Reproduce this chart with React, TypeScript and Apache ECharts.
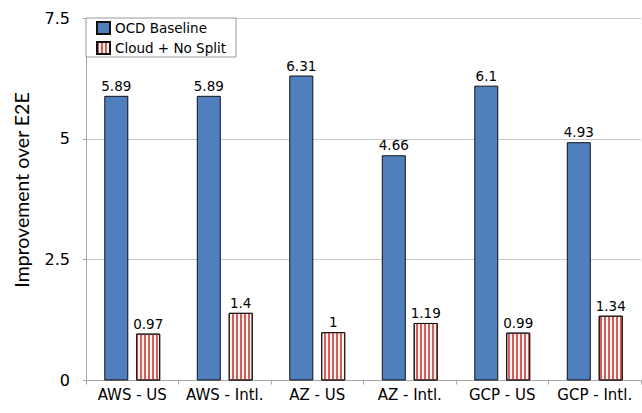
import React, { useEffect, useRef } from "react";
import * as echarts from "echarts";

const categories = ["AWS - US", "AWS - Intl.", "AZ - US", "AZ - Intl.", "GCP - US", "GCP - Intl."];
const ocdBaseline = [5.89, 5.89, 6.31, 4.66, 6.1, 4.93];
const cloudNoSplit = [0.97, 1.4, 1, 1.19, 0.99, 1.34];
const yTicks = { min: 0, max: 7.5, interval: 2.5 };
const yAxisTitle = "Improvement over E2E";

export default function App() {
  const ref = useRef<HTMLDivElement>(null);
  useEffect(() => {
    const chart = echarts.init(ref.current!, null, { renderer: "svg" });
    const font = "DejaVu Sans";
    chart.setOption({
      animation: false,
      textStyle: { fontFamily: font },
      grid: { left: 86, right: 1, top: 18, bottom: 32.5, containLabel: false },
      graphic: [
        {
          type: "text",
          x: 21,
          y: 190,
          rotation: Math.PI / 2,
          style: {
            text: yAxisTitle,
            fontFamily: "Lato",
            fontSize: 19.5,
            fill: "#000",
            align: "center",
            verticalAlign: "middle",
          },
        },
      ],
      legend: {
        left: 86,
        top: 18,
        orient: "vertical",
        borderColor: "#9a9a9a",
        borderWidth: 1,
        backgroundColor: "#fff",
        padding: [3, 10, 2, 10],
        itemWidth: 13,
        itemHeight: 12,
        itemGap: 6,
        icon: "rect",
        textStyle: { fontSize: 13.5, color: "#000", fontFamily: font },
        data: ["OCD Baseline", "Cloud + No Split"],
      },
      xAxis: {
        type: "category",
        data: categories,
        axisLine: { lineStyle: { color: "#a6a6a6" } },
        axisTick: { show: true, length: 4, lineStyle: { color: "#a6a6a6" } },
        axisLabel: { fontSize: 15, color: "#000", margin: 7, fontFamily: font, interval: 0 },
      },
      yAxis: {
        type: "value",
        min: yTicks.min,
        max: yTicks.max,
        interval: yTicks.interval,
        axisLine: { show: true, lineStyle: { color: "#a6a6a6" } },
        axisTick: { show: true, length: 3, lineStyle: { color: "#a6a6a6" } },
        axisLabel: { fontSize: 16, color: "#000", margin: 16, fontFamily: font },
        splitLine: { lineStyle: { color: "#c8c8c8" } },
      },
      series: [
        {
          name: "OCD Baseline",
          type: "bar",
          data: ocdBaseline,
          barWidth: 24,
          barGap: "33%",
          itemStyle: { color: "#4f7fbc", borderColor: "#111", borderWidth: 1 },
          label: { show: true, position: "top", distance: 3, fontSize: 13.5, color: "#000", fontFamily: font },
        },
        {
          name: "Cloud + No Split",
          type: "bar",
          data: cloudNoSplit,
          barWidth: 24,
          itemStyle: {
            color: "#fdf2f2",
            borderColor: "#111",
            borderWidth: 1,
            decal: {
              symbol: "rect",
              symbolSize: 1,
              dashArrayX: [1.5, 1.5],
              dashArrayY: [4, 0],
              rotation: 0,
              color: "#d0605c",
            },
          },
          label: { show: true, position: "top", distance: 3, fontSize: 13.5, color: "#000", fontFamily: font },
        },
      ],
    });
    return () => chart.dispose();
  }, []);
  return <div ref={ref} style={{ position: "absolute", left: 0, top: 0, width: 642, height: 413 }} />;
}
